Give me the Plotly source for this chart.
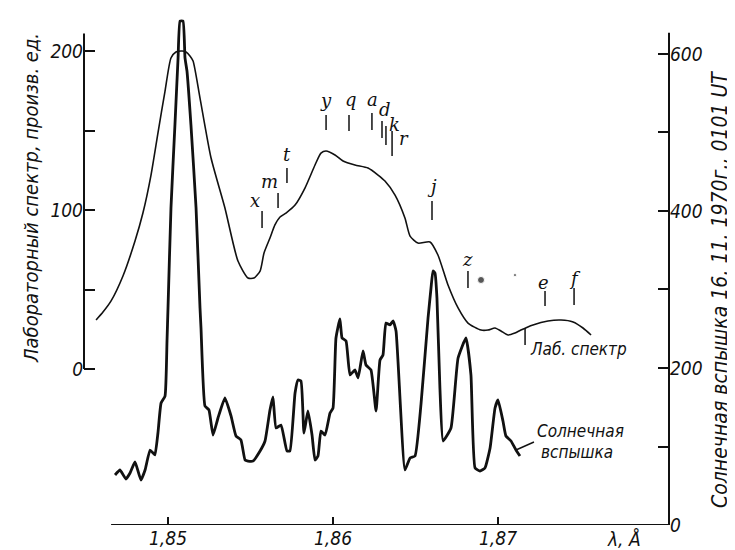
import plotly.graph_objects as go

# ---- data ----
# laboratory spectrum, left axis (arb. units)
lab_lambda = [1.84564, 1.84606, 1.84655, 1.84727, 1.84800, 1.84848, 1.84897, 1.84939, 1.84982,
              1.85018, 1.85048, 1.85085, 1.85109, 1.85133, 1.85152, 1.85194, 1.85261, 1.85345,
              1.85424, 1.85485, 1.85521, 1.85558, 1.85582, 1.85618, 1.85648, 1.85679, 1.85715,
              1.85770, 1.85830, 1.85891, 1.85927, 1.85958, 1.86012, 1.86061, 1.86133, 1.86212,
              1.86273, 1.86315, 1.86376, 1.86436, 1.86467, 1.86515, 1.86588, 1.86636, 1.86697,
              1.86758, 1.86818, 1.86897, 1.86939, 1.86982, 1.87018, 1.87061, 1.87103, 1.87139,
              1.87212, 1.87303, 1.87382, 1.87455, 1.87515, 1.87564]
lab_value = [30.8, 35.8, 42.8, 58.5, 80.5, 98.1, 122.0, 148.4, 174.8,
             195.6, 199.4, 200.0, 199.4, 196.9, 193.7, 170.4, 132.7, 101.3,
             67.9, 57.2, 57.2, 61.6, 73.0, 82.4, 90.6, 95.6, 98.1,
             103.1, 113.8, 128.3, 135.8, 137.1, 134.6, 130.8, 128.3, 126.4,
             122.0, 118.2, 109.4, 95.0, 83.6, 79.2, 79.9, 71.7, 52.8,
             38.4, 28.9, 24.5, 24.5, 25.8, 23.9, 21.4, 22.6, 24.5,
             27.7, 30.2, 30.8, 29.6, 25.8, 21.4]

# solar flare spectrum, right axis
sun_lambda = [1.84679, 1.84709, 1.84745, 1.84770, 1.84800, 1.84836, 1.84861, 1.84891, 1.84909,
              1.84921, 1.84939, 1.84958, 1.84982, 1.84994, 1.85000, 1.85018, 1.85042, 1.85061,
              1.85073, 1.85091, 1.85103, 1.85115, 1.85139, 1.85170, 1.85194, 1.85200, 1.85224,
              1.85248, 1.85273, 1.85303, 1.85345, 1.85382, 1.85412, 1.85442, 1.85467, 1.85485,
              1.85515, 1.85558, 1.85588, 1.85618, 1.85636, 1.85655, 1.85685, 1.85721, 1.85739,
              1.85770, 1.85788, 1.85806, 1.85824, 1.85848, 1.85873, 1.85891, 1.85909, 1.85927,
              1.85952, 1.85982, 1.86000, 1.86018, 1.86042, 1.86055, 1.86079, 1.86103, 1.86133,
              1.86152, 1.86182, 1.86200, 1.86230, 1.86261, 1.86285, 1.86303, 1.86321, 1.86345,
              1.86364, 1.86382, 1.86436, 1.86467, 1.86497, 1.86533, 1.86576, 1.86594, 1.86606,
              1.86618, 1.86630, 1.86648, 1.86667, 1.86715, 1.86758, 1.86806, 1.86836, 1.86861,
              1.86891, 1.86921, 1.86952, 1.86982, 1.87000, 1.87030, 1.87048, 1.87079, 1.87109,
              1.87133]
sun_value = [63.7, 70.1, 58.6, 66.2, 80.3, 57.3, 70.1, 95.5, 91.7,
             89.2, 117.2, 155.4, 164.3, 234.4, 276.4, 403.8, 509.6, 594.9,
             642.0, 642.0, 594.9, 578.3, 509.6, 403.8, 276.4, 251.0, 151.6,
             146.5, 114.6, 136.3, 161.8, 138.9, 113.4, 108.3, 82.8, 81.5,
             81.5, 94.3, 107.0, 146.5, 163.1, 123.6, 127.4, 94.3, 94.3,
             168.2, 184.7, 183.4, 117.2, 145.2, 114.6, 82.8, 87.9, 119.7,
             114.6, 142.7, 149.0, 238.2, 262.4, 238.2, 234.4, 191.1, 197.5,
             187.3, 221.7, 203.8, 197.5, 145.2, 210.2, 216.6, 257.3, 254.8,
             259.9, 247.1, 70.1, 85.4, 87.9, 152.9, 263.7, 301.9, 323.6,
             321.0, 289.2, 174.5, 107.0, 123.6, 212.7, 238.2, 191.1, 72.6,
             68.8, 72.6, 98.1, 149.0, 159.2, 132.5, 113.4, 107.0, 95.5,
             87.9]

# satellite line markers (left-axis units)
line_names = ["x", "m", "t", "y", "q", "a", "d", "k", "r", "j", "z", "e", "f"]
line_lambda = [1.85570, 1.85667, 1.85721, 1.85958, 1.86097, 1.86236, 1.86297, 1.86321, 1.86358,
               1.86600, 1.86818, 1.87285, 1.87461]
line_low = [88.7, 101.3, 117.0, 150.3, 149.7, 150.3, 145.3, 140.9, 134.0, 93.7, 50.9, 39.6, 40.3]
line_high = [99.4, 110.7, 126.4, 159.7, 159.7, 161.0, 156.0, 152.8, 149.7, 105.7, 61.6, 49.1, 50.9]
label_lambda = [1.85527, 1.85618, 1.85721, 1.85958, 1.86109, 1.86242, 1.86315, 1.86372, 1.86430,
                1.86600, 1.86818, 1.87273, 1.87467]
label_value = [105.7, 118.2, 134.6, 168.6, 169.2, 169.2, 163.3, 154.0, 145.0, 115.1, 68.6, 54.1, 57.2]

dot_lambda = [1.86897, 1.87103]
dot_value = [56.0, 59.1]
dot_size = [7, 3]

x_ticks = [1.85, 1.86, 1.87]
x_ticktext = ["1,85", "1,86", "1,87"]
left_ticks = [0, 50, 100, 150, 200]
left_ticktext = ["0", "", "100", "", "200"]
right_ticks = [0, 100, 200, 300, 400, 500, 600]
right_ticktext = ["0", "", "200", "", "400", "", "600"]

# ---- figure ----
FONT = "DejaVu Sans Condensed, Liberation Sans Narrow, DejaVu Sans, sans-serif"
SERIF = "DejaVu Serif, Liberation Serif, serif"
ink = "#111111"

fig = go.Figure()

fig.add_trace(go.Scatter(x=lab_lambda, y=lab_value, mode="lines", yaxis="y",
                         line=dict(color=ink, width=1.6, shape="spline", smoothing=0.6),
                         hoverinfo="skip", showlegend=False))
fig.add_trace(go.Scatter(x=sun_lambda, y=sun_value, mode="lines", yaxis="y2",
                         line=dict(color=ink, width=2.8, shape="spline", smoothing=0.4),
                         hoverinfo="skip", showlegend=False))

# marker ticks
mx, my = [], []
for lam, lo, hi in zip(line_lambda, line_low, line_high):
    mx += [lam, lam, None]
    my += [lo, hi, None]
# pointer to lab spectrum label
mx += [1.87164, 1.87164]
my += [15.1, 25.8]
fig.add_trace(go.Scatter(x=mx, y=my, mode="lines", yaxis="y",
                         line=dict(color=ink, width=1.5), hoverinfo="skip", showlegend=False))

# pointer to solar label
fig.add_trace(go.Scatter(x=[1.87109, 1.87218], y=[95.5, 105.7], mode="lines", yaxis="y2",
                         line=dict(color=ink, width=1.5), hoverinfo="skip", showlegend=False))

fig.add_trace(go.Scatter(x=dot_lambda, y=dot_value, mode="markers", yaxis="y",
                         marker=dict(color=ink, size=dot_size), hoverinfo="skip", showlegend=False))

X0, X1 = 1.844909, 1.880364
annotations = []
for name, lam, val in zip(line_names, label_lambda, label_value):
    annotations.append(dict(x=lam, y=val, xref="x", yref="y", text=name, showarrow=False,
                            font=dict(family=SERIF, size=18, color=ink, style="italic"),
                            xanchor="center", yanchor="middle"))

annotations += [
    dict(x=1.87182, y=12.5, xref="x", yref="y", text="Лаб. спектр", showarrow=False,
         xanchor="left", yanchor="middle", font=dict(family=FONT, size=17, color=ink, style="italic")),
    dict(x=1.87222, y=119.7, xref="x", yref="y2", text="Солнечная", showarrow=False,
         xanchor="left", yanchor="middle", font=dict(family=FONT, size=17, color=ink, style="italic")),
    dict(x=1.87250, y=93.0, xref="x", yref="y2", text="вспышка", showarrow=False,
         xanchor="left", yanchor="middle", font=dict(family=FONT, size=17, color=ink, style="italic")),
    dict(x=(616 - 76) / 585, y=-0.028, xref="paper", yref="paper", text="λ, Å", showarrow=False,
         xanchor="center", yanchor="middle", font=dict(family=FONT, size=19, color=ink, style="italic")),
    dict(x=(23 - 76) / 585, y=(517 - 190) / 512, xref="paper", yref="paper",
         text="Лабораторный спектр, произв. ед.", textangle=-90, showarrow=False,
         xanchor="center", yanchor="middle", font=dict(family=FONT, size=20, color=ink, style="italic")),
    dict(x=(712 - 76) / 585, y=(517 - 282) / 512, xref="paper", yref="paper",
         text="Солнечная вспышка 16. 11. 1970г., 0101 UT", textangle=-90, showarrow=False,
         xanchor="center", yanchor="middle", font=dict(family=FONT, size=21, color=ink, style="italic")),
]

shapes = [
    # left axis line (0..~211)
    dict(type="line", xref="paper", yref="y", x0=0, x1=0, y0=0, y1=211,
         line=dict(color=ink, width=2)),
    # right axis line
    dict(type="line", xref="paper", yref="y2", x0=1, x1=1, y0=0, y1=627,
         line=dict(color=ink, width=2)),
    # bottom axis line
    dict(type="line", xref="x", yref="y2", x0=1.84655, x1=X1, y0=0, y1=0,
         line=dict(color=ink, width=2)),
]

tickfont = dict(family=FONT, size=19, color=ink, style="italic")

fig.update_layout(
    width=735, height=550,
    margin=dict(l=76, r=74, t=5, b=33),
    paper_bgcolor="white", plot_bgcolor="white",
    xaxis=dict(range=[X0, X1], showgrid=False, zeroline=False, showline=False,
               ticks="inside", ticklen=8, tickwidth=1.5, tickcolor=ink,
               tickvals=x_ticks, ticktext=x_ticktext, tickfont=tickfont),
    yaxis=dict(range=[-98.1, 223.9], showgrid=False, zeroline=False, showline=False,
               ticks="inside", ticklen=11, tickwidth=1.5, tickcolor=ink,
               tickvals=left_ticks, ticktext=left_ticktext, tickfont=tickfont),
    yaxis2=dict(range=[0, 652.2], overlaying="y", side="right", showgrid=False, zeroline=False,
                showline=False, ticks="inside", ticklen=11, tickwidth=1.5, tickcolor=ink,
                tickvals=right_ticks, ticktext=right_ticktext, tickfont=tickfont),
    annotations=annotations,
    shapes=shapes,
    showlegend=False,
)

fig.write_html("out.html", config={"displayModeBar": False})
